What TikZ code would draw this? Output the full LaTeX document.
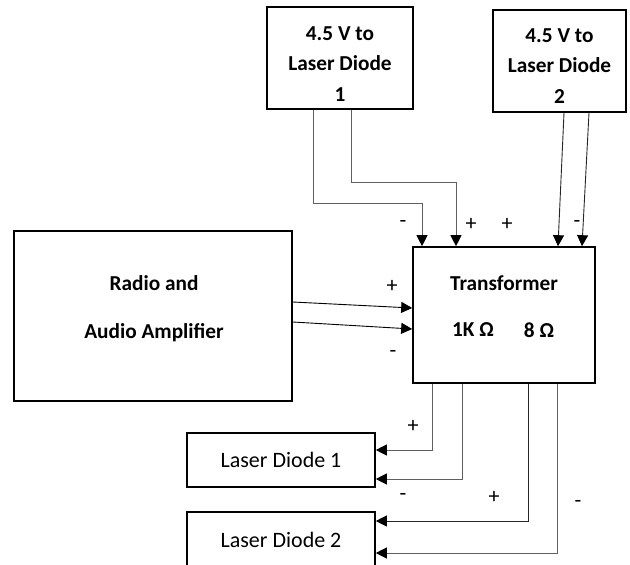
\documentclass[tikz,border=0pt]{standalone}
\usepackage{fontspec}
\setmainfont{Carlito}
\usetikzlibrary{positioning,arrows.meta}
\newcommand\dfont{\fontsize{22}{30.5}\selectfont}
\newcommand\bfont{\fontsize{21.3}{30.5}\selectfont\bfseries}
\tikzset{
  box/.style={draw,line width=1.6pt,inner sep=0pt,align=center,font=\dfont},
  lbl/.style={inner sep=0pt,align=center,font=\bfont},
  sign/.style={inner sep=0pt,font=\dfont},
  wire/.style={draw=gray!75!black,line width=0.9pt},
}

\begin{document}
\begin{tikzpicture}[x=1pt,y=-1pt,>={Triangle[length=11pt,width=11pt,color=black]}]
\useasboundingbox (0,0) rectangle (630,565);
\clip (0,0) rectangle (630,565);
% supplies
\node[box,minimum width=146pt,minimum height=102pt] (ps1) at (340,58) {};
\node[lbl] (ps1name) at (340,64) {4.5 V to\\Laser Diode\\1};
\node[box,minimum width=133pt,minimum height=102pt] (ps2) at (559.5,61) {};
\node[lbl] (ps2name) at (559.5,66) {4.5 V to\\Laser Diode\\2};
% radio and transformer
\node[box,minimum width=278pt,minimum height=170pt] (rad) at (153,316) {};
\node[lbl] (radname) at (154,283) {Radio and};
\node[lbl] (ampname) at (154,333) {Audio Amplifier};
\node[box,minimum width=182pt,minimum height=136pt] (trf) at (504,315) {};
\node[lbl] (trfname) at (504,283) {Transformer};
\node[lbl] (ohm1) at (473,330) {1K Ω};
\node[lbl] (ohm2) at (539,330) {8 Ω};
% diodes
\node[box,minimum width=188pt,minimum height=54pt] (ld1) at (281,460) {Laser Diode 1};
\node[box,minimum width=188pt,minimum height=56pt] (ld2) at (281,540) {Laser Diode 2};

\draw[wire,->] ([xshift=-27pt]ps1.south) -- ++(0,94) -| ([xshift=-82pt]trf.north);
\draw[wire,->] ([xshift=11pt]ps1.south) -- ++(0,73) -| ([xshift=-48pt]trf.north);
\draw[wire,draw=black!85,->] ([xshift=4.5pt]ps2.south) -- ([xshift=54pt]trf.north);
\draw[wire,draw=black!85,->] ([xshift=29.5pt]ps2.south) -- ([xshift=78pt]trf.north);
\draw[wire,draw=black,->] ([yshift=14pt]rad.east) -- ([yshift=7pt]trf.west);
\draw[wire,draw=black,->] ([yshift=-6pt]rad.east) -- ([yshift=-14pt]trf.west);
\draw[wire,->] ([xshift=-72pt]trf.south) |- ([yshift=10pt]ld1.east);
\draw[wire,->] ([xshift=-42pt]trf.south) |- ([yshift=-19pt]ld1.east);
\draw[wire,draw=black!85,->] ([xshift=24pt]trf.south) |- ([yshift=19pt]ld2.east);
\draw[wire,->] ([xshift=53pt]trf.south) |- ([yshift=-13pt]ld2.east);

% polarity marks
\node[sign] (m1) at (403,224) {-};
\node[sign] (p1) at (471,224) {+};
\node[sign] (p2) at (507,224) {+};
\node[sign] (m2) at (577,224) {-};
\node[sign] (pa) at (392,286) {+};
\node[sign] (ma) at (393,354) {-};
\node[sign] (p3) at (413,426) {+};
\node[sign] (m3) at (403,497) {-};
\node[sign] (p4) at (494,497) {+};
\node[sign] (m4) at (578,504) {-};
\end{tikzpicture}
\end{document}
